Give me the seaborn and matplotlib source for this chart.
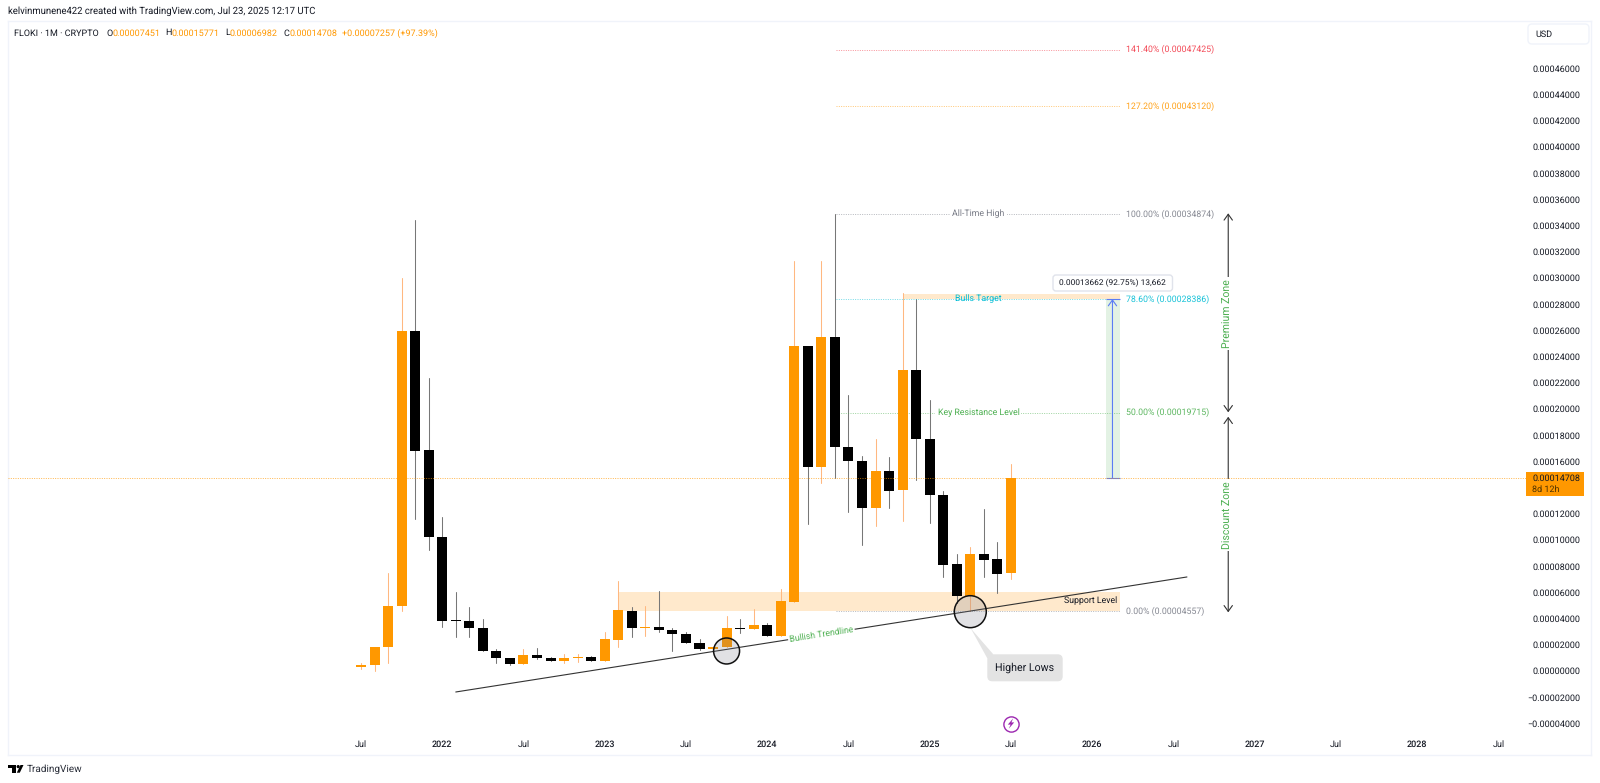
import pandas as pd
import matplotlib
matplotlib.use('Agg')
import matplotlib.pyplot as plt
import seaborn as sns
from matplotlib.patches import FancyBboxPatch, Polygon, Rectangle

# prices are kept in units of 0.00001, one candle per month starting Jul 2021
candle_open = [0.30, 0.42, 1.80, 4.95, 25.97, 16.86, 10.22, 3.84, 3.84, 3.30, 1.49, 0.96, 0.53,
               1.19, 0.96, 0.73, 1.01, 1.09, 0.78, 2.38, 4.60, 3.30, 3.35, 3.12, 2.82, 2.15, 1.67,
               1.82, 3.25, 3.17, 3.47, 2.69, 5.29, 24.80, 15.56, 25.46, 17.09, 16.05, 12.46, 15.28,
               13.78, 22.99, 17.68, 13.42, 8.13, 5.74, 8.92, 8.51, 7.451]
candle_high = [0.58, 1.82, 7.45, 29.97, 34.42, 22.33, 11.72, 6.05, 4.88, 3.94, 1.70, 0.96, 1.67,
               1.75, 1.04, 1.29, 1.29, 1.14, 3.00, 6.84, 4.90, 4.93, 6.07, 3.30, 2.99, 2.46, 1.82,
               4.19, 3.95, 4.70, 3.68, 6.23, 31.29, 24.80, 31.29, 34.87, 21.06, 16.43, 17.70, 16.35,
               28.82, 28.36, 20.68, 13.76, 8.92, 9.46, 12.33, 9.81, 15.771]
candle_low = [0.12, -0.01, 0.58, 4.60, 11.57, 9.23, 3.35, 2.56, 2.56, 1.49, 0.60, 0.48, 0.53,
              0.91, 0.73, 0.63, 0.70, 0.78, 0.78, 1.85, 2.56, 2.69, 2.99, 1.54, 2.15, 1.62, 1.62,
              1.82, 2.90, 3.17, 2.69, 2.69, 5.29, 11.21, 14.31, 14.70, 12.15, 9.60, 11.08, 12.40,
              11.44, 14.57, 11.27, 7.14, 5.16, 4.557, 7.19, 5.97, 6.982]
candle_close = [0.45, 1.82, 4.98, 25.97, 16.81, 10.22, 3.84, 3.80, 3.27, 1.49, 0.96, 0.53, 1.19,
                0.96, 0.73, 1.01, 1.09, 0.78, 2.41, 4.62, 3.27, 3.38, 3.10, 2.82, 2.15, 1.67, 1.82,
                3.25, 3.20, 3.47, 2.69, 5.33, 24.80, 15.56, 25.46, 17.11, 16.05, 12.46, 15.28, 13.75,
                22.99, 17.68, 13.42, 8.08, 5.74, 8.92, 8.46, 7.40, 14.708]

fib_levels = [47.425, 43.120, 34.874, 28.386, 19.715, 4.557]
fib_labels = ['141.40% (0.00047425)', '127.20% (0.00043120)', '100.00% (0.00034874)',
              '78.60% (0.00028386)', '50.00% (0.00019715)', '0.00% (0.00004557)']
fib_names = ['', '', 'All-Time High', 'Bulls Target', 'Key Resistance Level', '']
fib_colors = ['#f23645', '#ff9800', '#787b86', '#00bcd4', '#4caf50', '#787b86']

y_ticks = [v for v in range(-4, 48, 2) if v != 14]
x_ticks = list(range(0, 90, 6))
x_tick_labels = ['Jul', '2022', 'Jul', '2023', 'Jul', '2024', 'Jul', '2025', 'Jul', '2026',
                 'Jul', '2027', 'Jul', '2028', 'Jul']

last_price = 14.708
trend_x = [7, 61]
trend_y = [-1.61, 7.17]
circle_x = [27, 45]
circle_y = [1.52, 4.52]
circle_size = [350, 530]

UP = '#ff9800'
DOWN = '#000000'
GREEN = '#4caf50'
INK = '#131722'
SMALL = 6.3
SCALE = 6.5

sns.set_theme(style='white')
plt.rcParams['font.family'] = ['Roboto', 'DejaVu Sans']
plt.rcParams['text.hinting'] = 'no_hinting'

df = pd.DataFrame({'month': range(len(candle_open)), 'open': candle_open, 'high': candle_high,
                   'low': candle_low, 'close': candle_close})
df['top'] = df[['open', 'close']].max(axis=1)
df['bottom'] = df[['open', 'close']].min(axis=1)
df['body'] = (df['top'] - df['bottom']).clip(lower=0.05)
df['rising'] = df['close'] >= df['open']

fig = plt.figure(figsize=(16, 7.83), dpi=100, facecolor='white')
# pane edges in pixels: 7.5 to 1591 across, 21 to 755 down
ax = fig.add_axes([7.5 / 1600, 1 - 755 / 783, (1591 - 7.5) / 1600, (755 - 21) / 783])

# zones under the candles
ax.fill_between([19, 56.05], 4.557, 6.05, color='#ffe9cc', lw=0, zorder=1)
ax.fill_between([40.1, 56.05], 28.386, 28.77, color='#ffe9cc', lw=0, zorder=1)
ax.fill_between([55, 56.05], last_price, 28.386, color='#e3f2e4', lw=0, zorder=1)

# wicks then bodies
wicks = df.melt(id_vars=['month', 'rising'], value_vars=['high', 'low'], value_name='price')
wicks = wicks.sort_values(['month', 'variable'])
for rising, color in [(True, '#ffb880'), (False, '#777777')]:
    sns.lineplot(data=wicks[wicks['rising'] == rising], x='month', y='price', units='month',
                 estimator=None, color=color, lw=0.75, ax=ax, zorder=2)
for rising, color in [(True, UP), (False, DOWN)]:
    part = df[df['rising'] == rising]
    sns.barplot(data=part, x='month', y='body', bottom=part['bottom'].values, native_scale=True,
                color=color, width=0.74, errorbar=None, saturation=1, linewidth=0, ax=ax, zorder=3)

# fib levels
for level, label, name, color in zip(fib_levels, fib_labels, fib_names, fib_colors):
    ax.plot([35.1, 56.05], [level, level], color=color, lw=0.7, ls=(0, (1, 1.4)), alpha=0.55, zorder=2)
    ax.text(56.5, level, label, color=color, fontsize=SMALL, alpha=0.9, va='center', ha='left', zorder=5)
    if name:
        ax.text(45.6, level, name, color=color, fontsize=SMALL, va='center', ha='center', zorder=5,
                bbox=dict(fc='white', ec='none', pad=1.5, alpha=0 if name == 'Bulls Target' else 1))

# trendline and its label
sns.lineplot(x=trend_x, y=trend_y, color='#333333', lw=0.8, ax=ax, zorder=4)
ax.text(34, 2.79, 'Bullish Trendline', color=GREEN, fontsize=SMALL, rotation=8.9, rotation_mode='anchor',
        ha='center', va='center', zorder=5, bbox=dict(fc='white', ec='none', pad=1))
ax.text(55.85, 5.34, 'Support Level', color=INK, fontsize=SMALL, ha='right', va='center', zorder=5)

# circles around the lows
sns.scatterplot(x=circle_x, y=circle_y, s=circle_size, color='#787b86', linewidth=0, ax=ax, zorder=4)
circles = ax.collections[-1]
circles.set_alpha(None)
circles.set_facecolor((0.47, 0.48, 0.53, 0.22))
circles.set_edgecolor('#111111')
circles.set_linewidth(1.1)

# measure tool
ax.hlines([28.386, last_price], 55, 56.05, color='#5b7cf5', lw=0.8, zorder=4)
ax.annotate('', xy=(55.5, 28.386), xytext=(55.5, last_price), zorder=4,
            arrowprops=dict(arrowstyle='->,head_length=0.35,head_width=0.25', color='#5b7cf5', lw=0.8,
                            shrinkA=0, shrinkB=0))

# zone arrows
for top, bottom, mid, label in [(34.93, 19.74, 27.3, 'Premium Zone'), (19.4, 4.47, 11.9, 'Discount Zone')]:
    ax.annotate('', xy=(64.05, top), xytext=(64.05, bottom), zorder=4,
                arrowprops=dict(arrowstyle='<->,head_length=0.35,head_width=0.25', color='#333333', lw=0.8,
                                shrinkA=0, shrinkB=0))
    ax.text(64.05, mid, label, color=GREEN, fontsize=7.6, rotation=90, ha='center', va='center', zorder=5,
            bbox=dict(fc='white', ec='none', pad=1.5))

ax.axhline(last_price, xmax=(1526 - 7.5) / (1591 - 7.5), color=UP, lw=0.7, ls=(0, (1, 1.4)), alpha=0.7, zorder=6)

# scales, labels sit inside the pane like the TradingView price and time scales
ax.set_xlim((7.5 - 361) / 13.54, (1591 - 361) / 13.54)
ax.set_ylim((670.9 - 755) / 13.1, (670.9 - 21) / 13.1)
ax.set_xticks(x_ticks)
ax.set_xticklabels(x_tick_labels)
ax.set_yticks(y_ticks)
ax.set_yticklabels([f'{v / 1e5:.8f}'.replace('-', '\u2212') for v in y_ticks])
ax.yaxis.tick_right()
ax.tick_params(axis='y', length=0, pad=-7.9, labelsize=SCALE, labelcolor=INK)
ax.tick_params(axis='x', length=0, pad=-10.5, labelsize=SCALE, labelcolor=INK)
for lab in ax.get_yticklabels():
    lab.set_ha('right')
for lab in ax.get_xticklabels():
    if lab.get_text() != 'Jul':
        lab.set_fontweight('medium')
ax.set_xlabel('')
ax.set_ylabel('')
for spine in ax.spines.values():
    spine.set_color('#f0f3fa')
    spine.set_linewidth(1)

# everything else is placed in pixels on a full-figure overlay
over = fig.add_axes([0, 0, 1, 1], facecolor='none')
over.set_xlim(0, 1600)
over.set_ylim(783, 0)
over.axis('off')

over.text(8, 11.5, 'kelvinmunene422 created with TradingView.com, Jul 23, 2025 12:17 UTC',
          fontsize=6.85, color=INK, va='center')
for x, text, color in [(14, 'FLOKI \u00b7 1M \u00b7 CRYPTO', INK), (106, 'O', INK), (112.3, '0.00007451', UP),
                       (165.7, 'H', INK), (171.7, '0.00015771', UP), (225, 'L', INK), (230, '0.00006982', UP),
                       (283.3, 'C', INK), (289, '0.00014708', UP), (342.3, '+0.00007257 (+97.39%)', UP)]:
    over.text(x, 33, text, fontsize=SCALE, color=color, va='center')

over.add_patch(FancyBboxPatch((1528, 24), 61, 20, boxstyle='round,pad=0,rounding_size=4', fc='white',
                              ec='#f0f3fa', lw=1))
over.text(1535, 34, 'USD', fontsize=SCALE, color=INK, va='center')

over.add_patch(Rectangle((1526, 472), 58, 23.7, fc=UP, ec='none'))
over.text(1580, 478.3, '0.00014708', fontsize=SCALE, color=INK, va='center', ha='right')
over.text(1532, 489.5, '8d 12h', fontsize=SCALE, color='#4a3000', va='center')

# measure tool label
over.add_patch(FancyBboxPatch((1053, 275), 119.5, 16, boxstyle='round,pad=0,rounding_size=3', fc='white',
                              ec='#e0e3eb', lw=1))
over.text(1112.7, 283, '0.00013662 (92.75%) 13,662', fontsize=6.0, color=INK, ha='center', va='center')

# Higher Lows callout
over.add_patch(Polygon([(970.7, 628.3), (987.3, 658.3), (993.3, 654.3)], fc='#e3e3e3', ec='none'))
over.add_patch(FancyBboxPatch((987.3, 654.3), 75.4, 27, boxstyle='round,pad=0,rounding_size=5', fc='#e3e3e3',
                              ec='none'))
over.text(1025, 667.8, 'Higher Lows', fontsize=7.7, color=INK, ha='center', va='center')

# lightning badge
over.scatter([1011], [723.5], s=120, fc='white', ec='#9c27b0', lw=1)
over.add_patch(Polygon([(1013.2, 718.3), (1007.8, 724.6), (1010.6, 724.6), (1008.8, 728.7), (1014.2, 722.4),
                        (1011.4, 722.4)], fc='#9c27b0', ec='none'))

# TradingView mark and wordmark
over.add_patch(Rectangle((8.3, 765), 7.7, 3, fc='black', ec='none'))
over.add_patch(Rectangle((12, 765), 4, 7.7, fc='black', ec='none'))
over.add_patch(plt.Circle((18.2, 766.6), 1.6, fc='black', ec='none'))
over.add_patch(Polygon([(20.5, 765), (23.5, 765), (19.8, 772.7), (16.8, 772.7)], fc='black', ec='none'))
over.text(26.5, 769, 'TradingView', fontsize=7.2, color='#2a2e39', va='center')

fig.savefig('out.png', dpi=100)
